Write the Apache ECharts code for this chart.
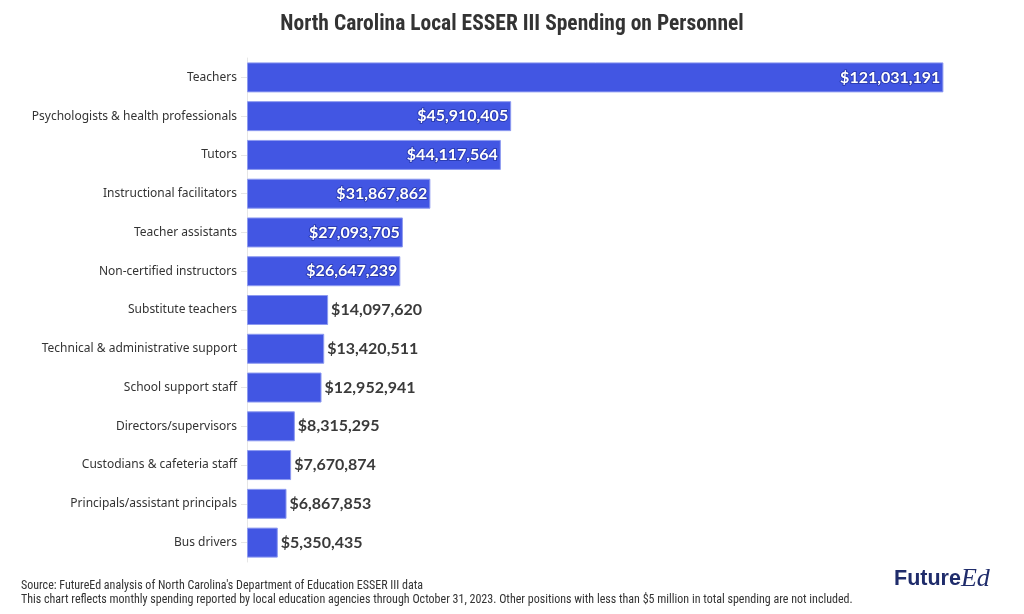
<!DOCTYPE html>
<html>
<head>
<meta charset="utf-8">
<script src="https://cdn.jsdelivr.net/npm/echarts@6/dist/echarts.min.js"></script>
<style>
  html, body { margin: 0; padding: 0; background: #fff; }
  #chart { width: 1024px; height: 614px; }
</style>
</head>
<body>
<div id="chart"></div>
<script>
// 数据
const categories = [
    'Teachers',
    'Psychologists & health professionals',
    'Tutors',
    'Instructional facilitators',
    'Teacher assistants',
    'Non-certified instructors',
    'Substitute teachers',
    'Technical & administrative support',
    'School support staff',
    'Directors/supervisors',
    'Custodians & cafeteria staff',
    'Principals/assistant principals',
    'Bus drivers'
];
const spending = [
    121031191, 45910405, 44117564, 31867862, 27093705, 26647239,
    14097620, 13420511, 12952941, 8315295, 7670874, 6867853, 5350435
];
const insideLimit = 20000000; // 大于这个值的标签放在柱子里面

const barColor = '#4256e3';
const condensed = "'Roboto Condensed', 'DejaVu Sans Condensed', Roboto";
const fmt = v => '$' + v.toLocaleString('en-US');

let chart = echarts.init(document.getElementById('chart'));

let seriesData = spending.map(v => {
    let inside = v > insideLimit;
    return {
        value: v,
        label: inside ? {
            position: 'insideRight',
            distance: 3,
            color: '#fff',
            textBorderColor: '#2b3cb3',
            textBorderWidth: 2
        } : {
            position: 'right',
            distance: 3,
            color: '#3a3a3a'
        }
    };
});

let option = {
    backgroundColor: '#fff',
    title: [
        {
            text: 'North Carolina Local ESSER III Spending on Personnel',
            left: 'center',
            top: 9,
            textStyle: {
                color: '#333',
                fontFamily: condensed,
                fontWeight: 'bold',
                fontSize: 21.5
            }
        },
        {
            text: "Source: FutureEd analysis of North Carolina's Department of Education ESSER III data",
            left: 16,
            top: 575,
            textStyle: { color: '#333', fontFamily: condensed, fontWeight: 'normal', fontSize: 12 }
        },
        {
            text: 'This chart reflects monthly spending reported by local education agencies through October 31, 2023. Other positions with less than $5 million in total spending are not included.',
            left: 16,
            top: 589,
            textStyle: { color: '#333', fontFamily: condensed, fontWeight: 'normal', fontSize: 12 }
        }
    ],
    graphic: [
        {
            type: 'text',
            left: 894,
            top: 566,
            style: {
                text: '{a|Future}{b|Ed}',
                rich: {
                    a: { fill: '#1f2c6b', fontFamily: 'Liberation Sans', fontWeight: 'bold', fontSize: 21.5 },
                    b: { fill: '#1f2c6b', fontFamily: 'Liberation Serif', fontStyle: 'italic', fontSize: 26 }
                }
            }
        }
    ],
    grid: {
        left: 247,
        right: 29,
        top: 58,
        bottom: 52,
        containLabel: false
    },
    xAxis: {
        type: 'value',
        min: 0,
        max: 130000000,
        show: false
    },
    yAxis: {
        type: 'category',
        inverse: true,
        data: categories,
        axisLine: { show: true, lineStyle: { color: '#e6e6e6', width: 1 } },
        axisTick: { show: true, alignWithLabel: true, length: 6, lineStyle: { color: '#e6e6e6' } },
        axisLabel: {
            margin: 10,
            color: '#333',
            fontFamily: 'Noto Sans',
            fontSize: 12
        }
    },
    series: [
        {
            type: 'bar',
            data: seriesData,
            barWidth: 30,
            itemStyle: {
                color: barColor,
                borderColor: '#8d9af0',
                borderWidth: 1
            },
            label: {
                show: true,
                fontFamily: 'Lato',
                fontWeight: 'bold',
                fontSize: 16,
                formatter: p => fmt(p.value)
            },
            animation: false
        }
    ]
};

chart.setOption(option);
window.addEventListener('resize', function () { chart.resize(); });
</script>
</body>
</html>
